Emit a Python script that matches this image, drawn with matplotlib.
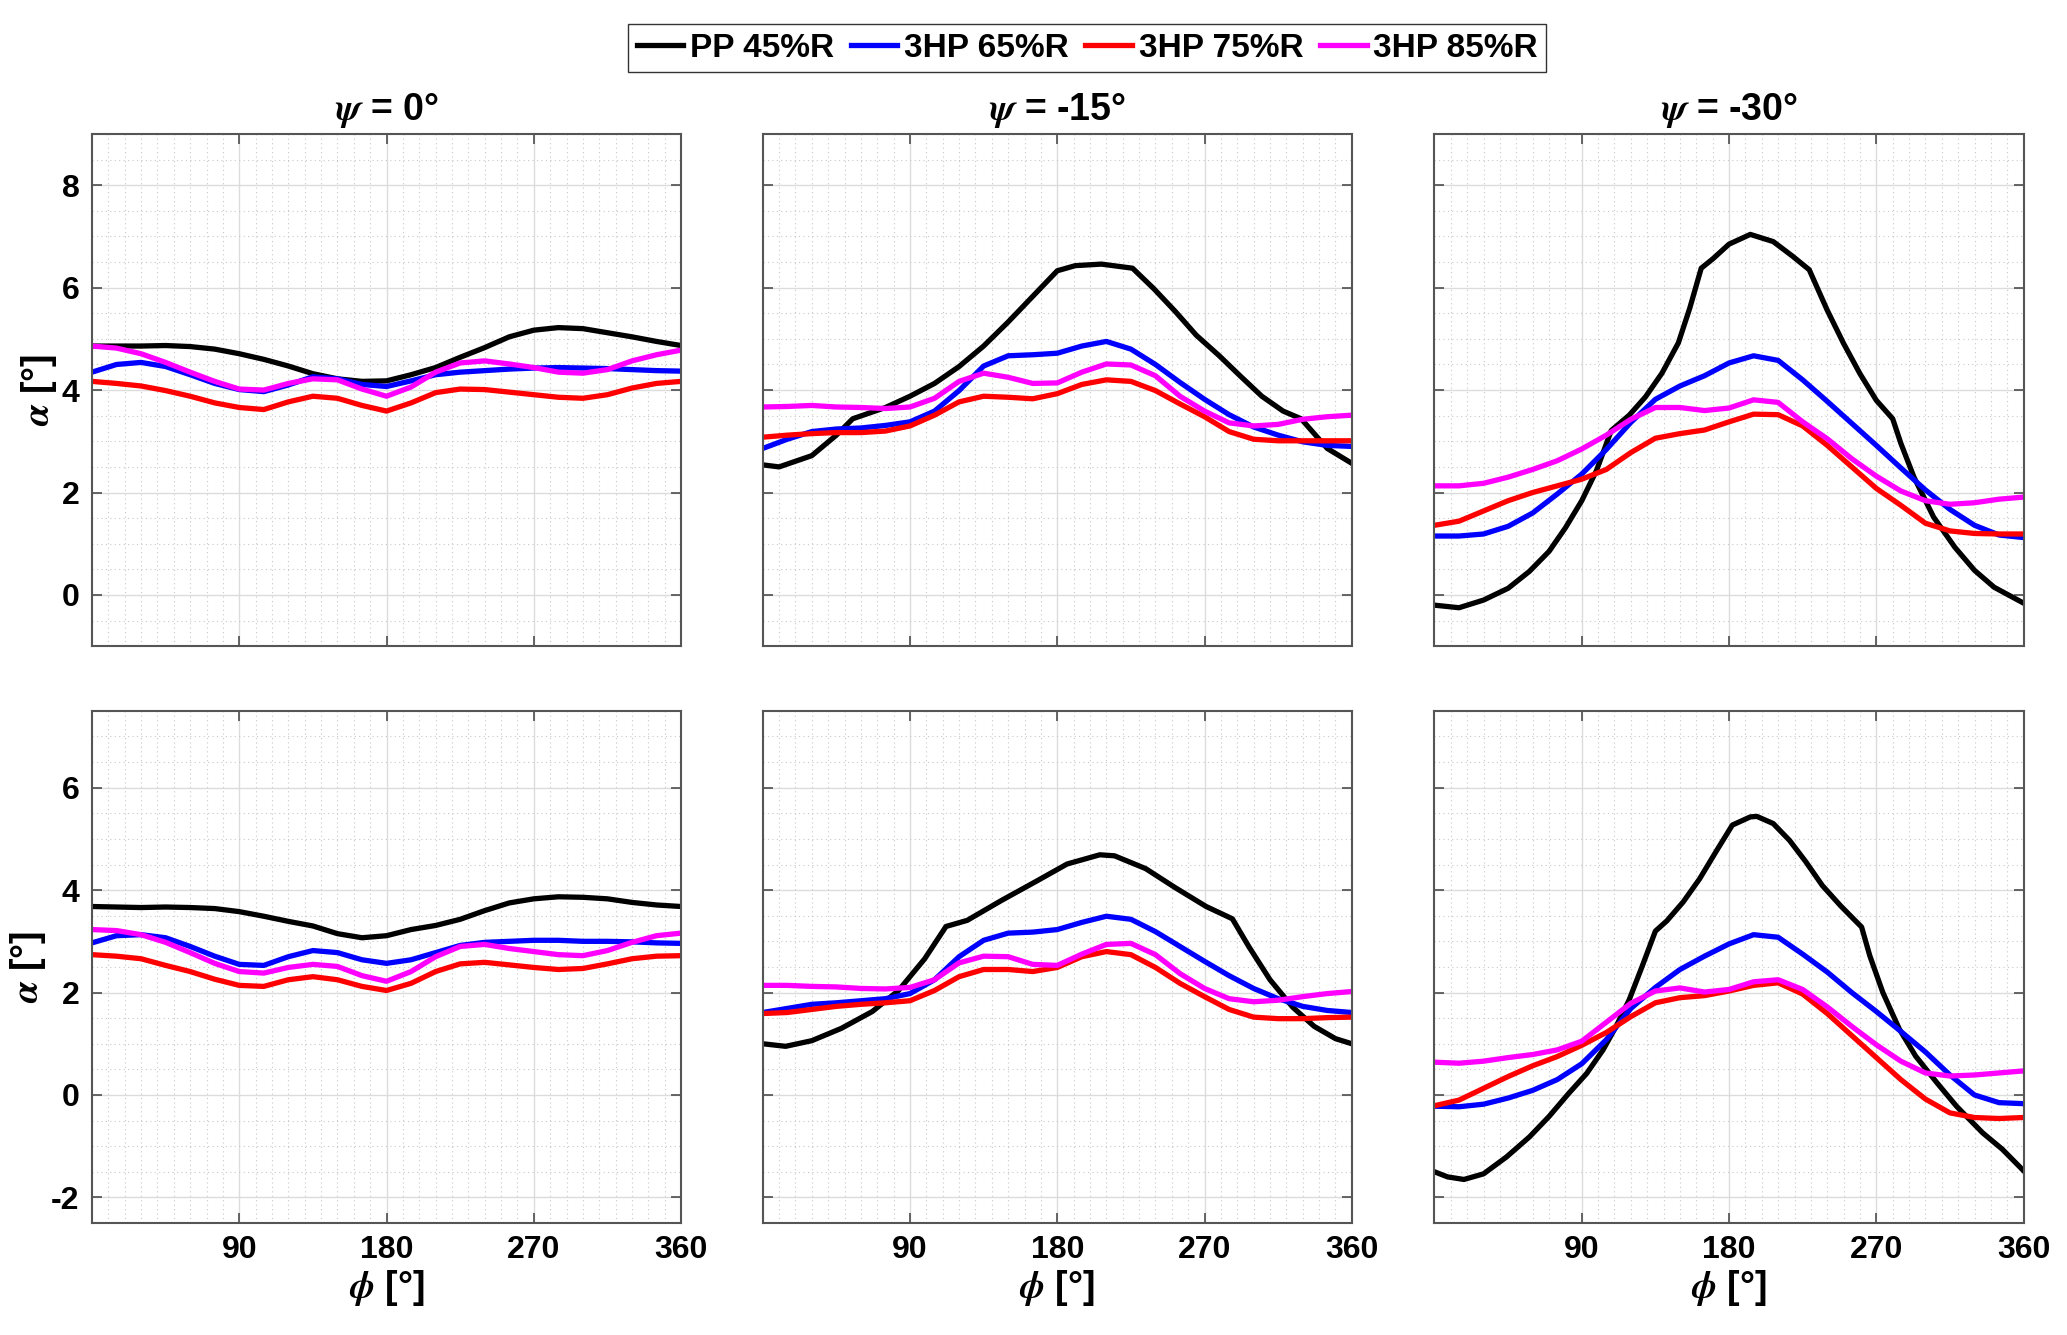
import matplotlib

matplotlib.use("Agg")
import matplotlib.pyplot as plt
from matplotlib.ticker import MultipleLocator

# azimuth grid shared by the 3HP curves
PHI = list(range(0, 361, 15))

# --- psi = 0, top row ---
TL_PP = [4.86, 4.86, 4.86, 4.87, 4.85, 4.80, 4.71, 4.60, 4.47, 4.32, 4.22, 4.17, 4.18,
         4.30, 4.44, 4.64, 4.83, 5.04, 5.17, 5.22, 5.20, 5.12, 5.04, 4.95, 4.87]
TL_65 = [4.35, 4.50, 4.54, 4.46, 4.30, 4.13, 4.01, 3.97, 4.10, 4.26, 4.22, 4.11, 4.07,
         4.18, 4.30, 4.35, 4.38, 4.41, 4.43, 4.44, 4.43, 4.42, 4.40, 4.38, 4.37]
TL_75 = [4.17, 4.13, 4.08, 3.99, 3.88, 3.75, 3.66, 3.62, 3.77, 3.88, 3.84, 3.70, 3.59,
         3.75, 3.95, 4.02, 4.01, 3.96, 3.91, 3.86, 3.84, 3.91, 4.04, 4.13, 4.17]
TL_85 = [4.86, 4.82, 4.71, 4.54, 4.35, 4.17, 4.02, 4.00, 4.13, 4.22, 4.20, 4.02, 3.88,
         4.06, 4.35, 4.53, 4.57, 4.51, 4.44, 4.35, 4.33, 4.40, 4.57, 4.69, 4.78]

# --- psi = -15, top row ---
TM_PP_PHI = [0, 10, 30, 45, 55, 75, 90, 105, 120, 135, 150, 165, 180, 191, 207, 226,
             239, 252, 265, 279, 292, 305, 318, 329, 345, 360]
TM_PP = [2.54, 2.50, 2.72, 3.12, 3.44, 3.66, 3.88, 4.13, 4.46, 4.86, 5.33, 5.83, 6.33,
         6.43, 6.46, 6.38, 5.98, 5.54, 5.07, 4.67, 4.27, 3.88, 3.59, 3.44, 2.86, 2.57]
TM_65 = [2.86, 3.04, 3.19, 3.24, 3.26, 3.31, 3.38, 3.59, 3.99, 4.47, 4.67, 4.69, 4.72,
         4.86, 4.95, 4.80, 4.50, 4.15, 3.82, 3.52, 3.28, 3.12, 2.99, 2.92, 2.90]
TM_75 = [3.08, 3.12, 3.15, 3.17, 3.17, 3.20, 3.30, 3.51, 3.77, 3.88, 3.86, 3.83, 3.93,
         4.11, 4.20, 4.17, 3.99, 3.73, 3.48, 3.19, 3.04, 3.01, 3.01, 3.01, 3.01]
TM_85 = [3.67, 3.68, 3.70, 3.67, 3.66, 3.64, 3.67, 3.84, 4.17, 4.33, 4.25, 4.13, 4.14,
         4.35, 4.51, 4.49, 4.28, 3.88, 3.59, 3.36, 3.30, 3.33, 3.43, 3.48, 3.51]

# --- psi = -30, top row ---
TR_PP_PHI = [0, 15, 30, 45, 58, 70, 80, 90, 99, 108, 119, 129, 139, 149, 156, 163, 170,
             180, 193, 207, 219, 229, 240, 250, 260, 270, 280, 285, 293, 305, 318, 330,
             342, 360]
TR_PP = [-0.20, -0.25, -0.10, 0.13, 0.46, 0.85, 1.31, 1.84, 2.43, 3.21, 3.51, 3.87, 4.33,
         4.92, 5.60, 6.38, 6.56, 6.85, 7.04, 6.90, 6.61, 6.35, 5.56, 4.91, 4.32, 3.80,
         3.44, 2.96, 2.30, 1.52, 0.93, 0.48, 0.15, -0.16]
TR_65 = [1.15, 1.15, 1.19, 1.34, 1.60, 1.97, 2.36, 2.84, 3.37, 3.82, 4.08, 4.28, 4.53,
         4.67, 4.58, 4.20, 3.78, 3.35, 2.92, 2.48, 2.05, 1.67, 1.36, 1.17, 1.12]
TR_75 = [1.36, 1.44, 1.64, 1.84, 2.00, 2.13, 2.26, 2.45, 2.78, 3.06, 3.15, 3.22, 3.38,
         3.53, 3.52, 3.30, 2.92, 2.50, 2.08, 1.75, 1.40, 1.25, 1.20, 1.19, 1.19]
TR_85 = [2.13, 2.13, 2.18, 2.30, 2.45, 2.62, 2.85, 3.12, 3.43, 3.66, 3.66, 3.60, 3.65,
         3.81, 3.76, 3.38, 3.05, 2.66, 2.32, 2.03, 1.84, 1.77, 1.80, 1.87, 1.91]

# --- psi = 0, bottom row ---
BL_PP = [3.68, 3.67, 3.66, 3.67, 3.66, 3.64, 3.58, 3.49, 3.39, 3.30, 3.15, 3.07, 3.11,
         3.23, 3.31, 3.43, 3.60, 3.75, 3.83, 3.87, 3.86, 3.83, 3.76, 3.71, 3.68]
BL_65 = [2.97, 3.11, 3.13, 3.07, 2.90, 2.71, 2.55, 2.53, 2.70, 2.82, 2.78, 2.64, 2.57,
         2.64, 2.78, 2.92, 2.98, 3.00, 3.02, 3.02, 3.00, 3.00, 2.99, 2.97, 2.96]
BL_75 = [2.74, 2.71, 2.66, 2.53, 2.41, 2.26, 2.14, 2.12, 2.25, 2.31, 2.25, 2.12, 2.04,
         2.18, 2.41, 2.56, 2.59, 2.54, 2.49, 2.45, 2.47, 2.56, 2.66, 2.71, 2.72]
BL_85 = [3.23, 3.21, 3.13, 2.98, 2.78, 2.57, 2.41, 2.38, 2.49, 2.55, 2.51, 2.33, 2.22,
         2.41, 2.70, 2.90, 2.94, 2.86, 2.80, 2.74, 2.72, 2.82, 2.98, 3.11, 3.16]

# --- psi = -15, bottom row ---
BM_PP_PHI = [0, 14, 30, 48, 67, 83, 99, 112, 125, 146, 167, 186, 206, 215, 234, 252, 271,
             287, 297, 310, 324, 337, 350, 360]
BM_PP = [1.00, 0.95, 1.06, 1.30, 1.63, 2.04, 2.66, 3.29, 3.41, 3.80, 4.17, 4.51, 4.69,
         4.67, 4.42, 4.05, 3.68, 3.44, 2.90, 2.25, 1.71, 1.34, 1.10, 1.00]
BM_65 = [1.61, 1.69, 1.77, 1.80, 1.84, 1.88, 1.98, 2.25, 2.70, 3.02, 3.16, 3.18, 3.23,
         3.37, 3.49, 3.43, 3.19, 2.90, 2.61, 2.33, 2.08, 1.88, 1.73, 1.65, 1.61]
BM_75 = [1.59, 1.61, 1.67, 1.73, 1.77, 1.80, 1.84, 2.04, 2.31, 2.45, 2.45, 2.41, 2.49,
         2.70, 2.80, 2.74, 2.49, 2.18, 1.92, 1.67, 1.52, 1.49, 1.49, 1.51, 1.52]
BM_85 = [2.14, 2.14, 2.12, 2.11, 2.08, 2.07, 2.10, 2.25, 2.58, 2.71, 2.70, 2.55, 2.53,
         2.75, 2.94, 2.96, 2.74, 2.37, 2.08, 1.88, 1.82, 1.85, 1.92, 1.98, 2.02]

# --- psi = -30, bottom row ---
BR_PP_PHI = [0, 8, 18, 30, 44, 58, 70, 82, 93, 103, 111, 119, 127, 135, 142, 152, 162,
             172, 182, 193, 197, 207, 217, 227, 237, 248, 256, 261, 266, 274, 284, 294,
             307, 319, 335, 347, 360]
BR_PP = [-1.50, -1.60, -1.65, -1.54, -1.21, -0.82, -0.42, 0.03, 0.42, 0.88, 1.34, 1.86,
         2.52, 3.20, 3.40, 3.77, 4.22, 4.75, 5.27, 5.43, 5.44, 5.30, 4.97, 4.55, 4.09,
         3.70, 3.44, 3.28, 2.72, 2.00, 1.29, 0.76, 0.24, -0.22, -0.74, -1.06, -1.48]
BR_65 = [-0.22, -0.23, -0.18, -0.06, 0.09, 0.30, 0.61, 1.08, 1.69, 2.10, 2.45, 2.71, 2.95,
         3.13, 3.08, 2.75, 2.40, 2.00, 1.63, 1.24, 0.84, 0.39, 0.00, -0.15, -0.17]
BR_75 = [-0.21, -0.10, 0.13, 0.36, 0.57, 0.75, 0.97, 1.22, 1.53, 1.80, 1.90, 1.94, 2.03,
         2.14, 2.19, 1.97, 1.59, 1.16, 0.73, 0.30, -0.08, -0.35, -0.44, -0.46, -0.44]
BR_85 = [0.64, 0.62, 0.66, 0.73, 0.79, 0.88, 1.05, 1.42, 1.79, 2.03, 2.09, 2.01, 2.06,
         2.21, 2.25, 2.06, 1.72, 1.34, 0.98, 0.66, 0.43, 0.37, 0.39, 0.43, 0.47]

TITLES = [r"$\psi$ = 0°", r"$\psi$ = -15°", r"$\psi$ = -30°"]
LABELS = ["PP 45%R", "3HP 65%R", "3HP 75%R", "3HP 85%R"]
COLORS = ["#000000", "#0000ff", "#ff0000", "#ff00ff"]

PANELS = [
    [(TL_PP, PHI, TL_65, TL_75, TL_85), (TM_PP, TM_PP_PHI, TM_65, TM_75, TM_85),
     (TR_PP, TR_PP_PHI, TR_65, TR_75, TR_85)],
    [(BL_PP, PHI, BL_65, BL_75, BL_85), (BM_PP, BM_PP_PHI, BM_65, BM_75, BM_85),
     (BR_PP, BR_PP_PHI, BR_65, BR_75, BR_85)],
]
ROW_YLIM = [(-1, 9), (-2.5, 7.5)]
ROW_YTICKS = [[0, 2, 4, 6, 8], [-2, 0, 2, 4, 6]]

plt.rcParams["font.family"] = ["Liberation Sans", "DejaVu Sans"]
plt.rcParams["font.weight"] = "bold"
plt.rcParams["mathtext.fontset"] = "stix"
plt.rcParams["axes.unicode_minus"] = False

fig = plt.figure(figsize=(20.67, 13.35), dpi=100)

col_left = [0.0445, 0.369, 0.694]
col_w = 0.285
row_bottom = [0.516, 0.0839]
row_h = 0.3836

lines = []
for r in range(2):
    for c in range(3):
        ax = fig.add_axes([col_left[c], row_bottom[r], col_w, row_h])
        pp, pp_phi, s65, s75, s85 = PANELS[r][c]
        lines = []
        lines += ax.plot(pp_phi, pp, color=COLORS[0], lw=3.8, label=LABELS[0])
        lines += ax.plot(PHI, s65, color=COLORS[1], lw=3.8, label=LABELS[1])
        lines += ax.plot(PHI, s75, color=COLORS[2], lw=3.8, label=LABELS[2])
        lines += ax.plot(PHI, s85, color=COLORS[3], lw=3.8, label=LABELS[3])

        ax.set_xlim(0, 360)
        ax.set_ylim(*ROW_YLIM[r])
        ax.set_xticks([90, 180, 270, 360])
        ax.set_yticks(ROW_YTICKS[r])
        ax.xaxis.set_minor_locator(MultipleLocator(10))
        ax.yaxis.set_minor_locator(MultipleLocator(0.5))
        ax.grid(True, which="major", color="#dcdcdc", lw=1.0, ls="-")
        ax.grid(True, which="minor", color="#c8c8c8", lw=0.8, ls=(0, (1, 3)))
        ax.set_axisbelow(True)
        ax.tick_params(which="major", direction="in", length=7, width=1.2,
                       top=True, right=True, color="#4d4d4d", labelsize=23, pad=9)
        ax.tick_params(which="minor", length=0)
        for sp in ax.spines.values():
            sp.set_color("#555555")
            sp.set_linewidth(1.5)

        if c == 0:
            ax.set_ylabel(r"$\alpha$ [°]", fontsize=27, fontweight="bold", labelpad=2)
        else:
            ax.set_yticklabels([])
        if r == 1:
            ax.set_xlabel(r"$\phi$ [°]", fontsize=27, fontweight="bold", labelpad=2)
        else:
            ax.set_xticklabels([])
        if r == 0:
            ax.set_title(TITLES[c], fontsize=27, fontweight="bold", pad=10)

fig.legend(lines, LABELS, loc="center", bbox_to_anchor=(0.526, 0.964), ncol=4,
           fontsize=24, frameon=True, fancybox=False, edgecolor="#000000",
           handlelength=1.4, handletextpad=0.2, columnspacing=0.5,
           borderpad=0.25, borderaxespad=0.0)

fig.savefig("out.png", dpi=100)
